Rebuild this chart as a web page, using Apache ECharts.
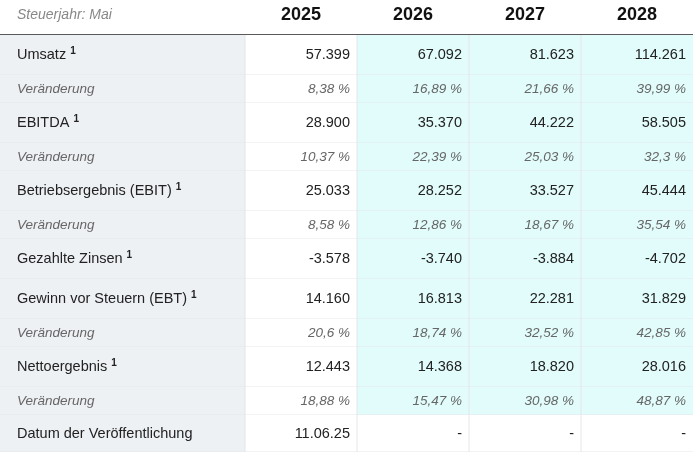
<!DOCTYPE html>
<html><head><meta charset="utf-8">
<script src="https://cdn.jsdelivr.net/npm/echarts@6/dist/echarts.min.js"></script>
<style>html,body{margin:0;padding:0;background:#fff}#c{width:693px;height:452px}</style>
</head><body><div id="c"></div>
<script>
const headerLabel = 'Steuerjahr: Mai';
const years = ['2025','2026','2027','2028'];
const rowLabels = ['Umsatz','Veränderung','EBITDA','Veränderung','Betriebsergebnis (EBIT)','Veränderung','Gezahlte Zinsen','Gewinn vor Steuern (EBT)','Veränderung','Nettoergebnis','Veränderung','Datum der Veröffentlichung'];
const rowIsSub = [false,true,false,true,false,true,false,false,true,false,true,false];
const rowSup = [true,false,true,false,true,false,true,true,false,true,false,false];
const v2025 = ['57.399','8,38 %','28.900','10,37 %','25.033','8,58 %','-3.578','14.160','20,6 %','12.443','18,88 %','11.06.25'];
const v2026 = ['67.092','16,89 %','35.370','22,39 %','28.252','12,86 %','-3.740','16.813','18,74 %','14.368','15,47 %','-'];
const v2027 = ['81.623','21,66 %','44.222','25,03 %','33.527','18,67 %','-3.884','22.281','32,52 %','18.820','30,98 %','-'];
const v2028 = ['114.261','39,99 %','58.505','32,3 %','45.444','35,54 %','-4.702','31.829','42,85 %','28.016','48,87 %','-'];
const forecast = [false,true,true,true];

const cols = [v2025,v2026,v2027,v2028];
const FF = '"Liberation Sans", Arial, sans-serif';
const W=693,H=452,headH=35,mainH=40,subH=28,labW=245,colW=(W-labW)/4;
const rowTop=[];let y=headH;
rowIsSub.forEach((s,i)=>{rowTop.push(y);y+= s?subH:mainH;});
const lastH = H-rowTop[rowTop.length-1];
function rh(i){return i===rowIsSub.length-1?lastH:(rowIsSub[i]?subH:mainH);}

const data=[];
for(let r=-1;r<rowLabels.length;r++) for(let c=-1;c<4;c++) data.push([c,r]);

function renderItem(params,api){
  const c=api.value(0), r=api.value(1);
  const x0 = c<0?0:labW+c*colW, w = c<0?labW:colW;
  const y0 = r<0?0:rowTop[r], h = r<0?headH:rh(r);
  const p=api.coord([x0,y0]); const p2=api.coord([x0+w,y0+h]);
  const X=p[0],Y=p[1],WW=p2[0]-p[0],HH=p2[1]-p[1];
  const ch=[];
  let bg='#ffffff';
  if(r>=0){ if(c<0) bg='#eef1f4'; else if(forecast[c] && r<rowLabels.length-1) bg='#e2fcfc'; }
  ch.push({type:'rect',shape:{x:X,y:Y,width:WW,height:HH},style:{fill:bg}});
  if(r>=0) ch.push({type:'line',shape:{x1:X,y1:Y+HH,x2:X+WW,y2:Y+HH},style:{stroke:'#e4e6ea',lineWidth:1}});
  if(c>=0 && r>=0) ch.push({type:'line',shape:{x1:X,y1:Y,x2:X,y2:Y+HH},style:{stroke:'#e4e6ea',lineWidth:1}});
  if(r<0){
    if(c<0) ch.push({type:'text',style:{x:X+17,y:Y+15,text:headerLabel,fill:'#888',fontSize:14,fontStyle:'italic',fontFamily:FF,verticalAlign:'middle'}});
    else ch.push({type:'text',style:{x:X+WW/2,y:Y+15,text:years[c],fill:'#111',fontSize:18,fontWeight:'bold',fontFamily:FF,align:'center',verticalAlign:'middle'}});
    ch.push({type:'line',shape:{x1:X,y1:Y+HH,x2:X+WW,y2:Y+HH},style:{stroke:'#222',lineWidth:1.5}});
  } else {
    const sub=rowIsSub[r];
    const st={fill:sub?'#666':'#222',fontSize:sub?13.5:14.5,fontStyle:sub?'italic':'normal',fontFamily:FF,verticalAlign:'middle'};
    if(c<0){
      ch.push({type:'text',style:Object.assign({x:X+17,y:Y+HH/2,text:rowLabels[r]+(rowSup[r]?' {s|1}':''),rich:{s:{fontSize:10,fontWeight:'bold',fill:'#222',fontFamily:FF,padding:[0,0,8,0]}}},st)});
    } else {
      ch.push({type:'text',style:Object.assign({x:X+WW-7,y:Y+HH/2,text:cols[c][r],align:'right'},st)});
    }
  }
  return {type:'group',children:ch};
}

const chart=echarts.init(document.getElementById('c'));
chart.setOption({
  animation:false,
  grid:{left:0,right:0,top:0,bottom:0},
  xAxis:{type:'value',min:0,max:W,show:false},
  yAxis:{type:'value',min:0,max:H,inverse:true,show:false},
  series:[{type:'custom',renderItem,data,clip:false}]
});
</script></body></html>
